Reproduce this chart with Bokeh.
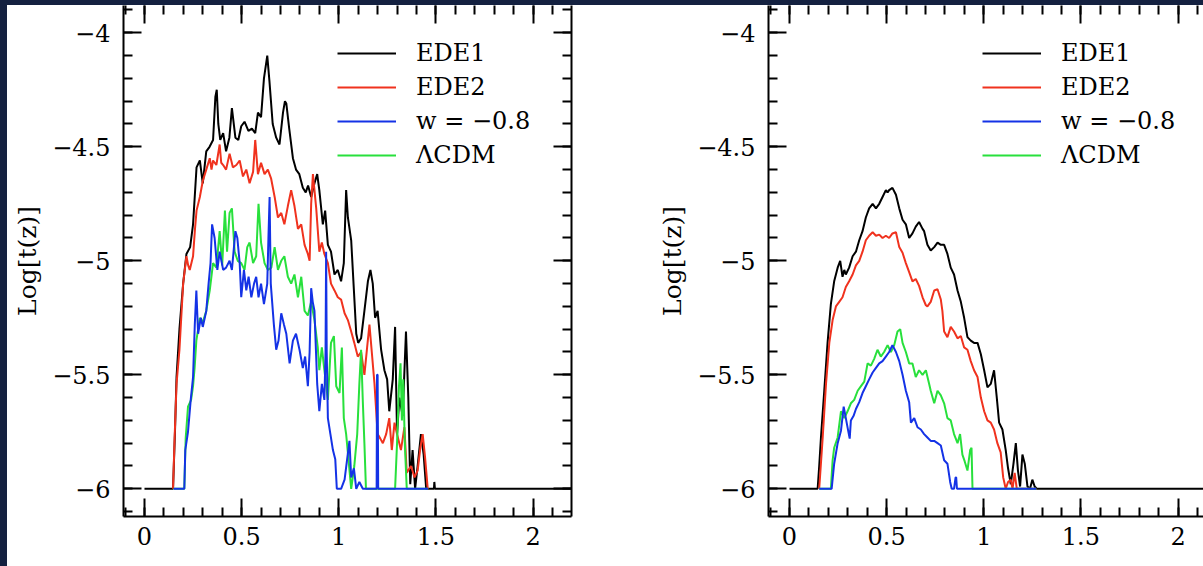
from bokeh.plotting import figure
from bokeh.layouts import row, column
from bokeh.models import (Range1d, LinearAxis, SingleIntervalTicker, CustomJSTickFormatter,
                          Legend, LegendItem, Label, Spacer)
from bokeh.embed import file_html
from bokeh.resources import INLINE

# ---------------- data ----------------
labels = ["EDE1", "EDE2", "w = \u22120.8", "\u039bCDM"]
colors = ["#000000", "#f0321e", "#1432e6", "#28e03c"]

# left panel
left_ede1_z = [0, 0.147, 0.157, 0.165, 0.18, 0.199, 0.216, 0.235, 0.25, 0.268, 0.285, 0.30, 0.318, 0.335,
               0.353, 0.365, 0.372, 0.38, 0.39, 0.405, 0.42, 0.437, 0.45, 0.468, 0.483, 0.498, 0.515, 0.535,
               0.553, 0.57, 0.584, 0.60, 0.615, 0.632, 0.643, 0.66, 0.678, 0.695, 0.713, 0.723, 0.73, 0.745,
               0.764, 0.78, 0.797, 0.815, 0.83, 0.842, 0.858, 0.875, 0.889, 0.90, 0.918, 0.93, 0.944, 0.96,
               0.978, 0.995, 1.012, 1.026, 1.038, 1.047, 1.064, 1.078, 1.09, 1.10, 1.115, 1.132, 1.15, 1.163,
               1.175, 1.187, 1.20, 1.218, 1.235, 1.249, 1.26, 1.278, 1.29, 1.30, 1.312, 1.329, 1.346, 1.358,
               1.368, 1.38, 1.393, 1.406, 1.423, 1.437, 1.45, 1.49, 1.492, 1.495, 2.2]
left_ede1_y = [-6, -6, -5.75, -5.51, -5.30, -5.10, -4.97, -4.94, -4.84, -4.59, -4.56, -4.66, -4.52, -4.50,
               -4.47, -4.28, -4.25, -4.40, -4.47, -4.44, -4.52, -4.46, -4.33, -4.46, -4.47, -4.41, -4.39, -4.43,
               -4.42, -4.44, -4.35, -4.37, -4.20, -4.10, -4.21, -4.40, -4.46, -4.49, -4.35, -4.30, -4.31, -4.42,
               -4.55, -4.60, -4.62, -4.68, -4.70, -4.67, -4.72, -4.66, -4.62, -4.69, -4.84, -4.78, -4.93, -4.96,
               -5.06, -5.04, -5.09, -5.01, -4.69, -4.81, -4.91, -5.13, -5.32, -5.36, -5.34, -5.22, -5.09, -5.04,
               -5.10, -5.25, -5.22, -5.39, -5.48, -5.52, -5.66, -5.52, -5.29, -5.76, -5.60, -5.68, -5.31, -5.60,
               -5.98, -5.83, -6.0, -5.90, -5.76, -5.85, -6.0, -6.0, -5.97, -6.0, -6.0]

left_ede2_z = [0.147, 0.155, 0.165, 0.18, 0.199, 0.216, 0.225, 0.233, 0.25, 0.26, 0.268, 0.285, 0.30, 0.318,
               0.336, 0.345, 0.353, 0.37, 0.387, 0.395, 0.405, 0.42, 0.438, 0.455, 0.473, 0.49, 0.507, 0.524,
               0.541, 0.559, 0.57, 0.584, 0.60, 0.618, 0.635, 0.652, 0.67, 0.687, 0.704, 0.72, 0.738, 0.755,
               0.772, 0.79, 0.807, 0.824, 0.841, 0.85, 0.858, 0.867, 0.884, 0.90, 0.913, 0.926, 0.944, 0.96,
               0.978, 0.995, 1.012, 1.03, 1.047, 1.064, 1.08, 1.098, 1.115, 1.132, 1.146, 1.158, 1.17, 1.184,
               1.20, 1.214, 1.227, 1.244, 1.26, 1.273, 1.287, 1.30, 1.32, 1.338, 1.35, 1.372, 1.39, 1.406,
               1.42, 1.432, 1.444, 1.458, 1.46]
left_ede2_y = [-6, -5.78, -5.54, -5.39, -5.10, -4.98, -5.02, -5.04, -4.98, -4.86, -4.78, -4.72, -4.65, -4.60,
               -4.55, -4.60, -4.56, -4.58, -4.49, -4.57, -4.58, -4.60, -4.53, -4.59, -4.58, -4.56, -4.63, -4.60,
               -4.66, -4.61, -4.47, -4.62, -4.57, -4.62, -4.60, -4.64, -4.72, -4.81, -4.79, -4.84, -4.76, -4.69,
               -4.76, -4.86, -4.84, -4.93, -4.97, -5.00, -4.75, -4.62, -4.77, -4.96, -4.92, -4.97, -5.01, -5.10,
               -5.13, -5.16, -5.17, -5.23, -5.26, -5.31, -5.36, -5.42, -5.40, -5.50, -5.38, -5.28, -5.40, -5.54,
               -5.76, -5.78, -5.80, -5.76, -5.69, -5.83, -5.71, -5.76, -5.83, -5.73, -5.93, -5.90, -5.95, -5.92,
               -5.82, -5.76, -5.86, -6.0, -6.0]

left_lcdm_z = [0.15, 0.205, 0.212, 0.224, 0.24, 0.25, 0.258, 0.267, 0.285, 0.30, 0.318, 0.336, 0.353, 0.37,
               0.387, 0.40, 0.414, 0.425, 0.438, 0.45, 0.464, 0.48, 0.498, 0.515, 0.529, 0.541, 0.559, 0.575,
               0.587, 0.60, 0.618, 0.635, 0.653, 0.67, 0.687, 0.704, 0.72, 0.738, 0.755, 0.772, 0.79, 0.807,
               0.824, 0.841, 0.858, 0.875, 0.892, 0.90, 0.913, 0.926, 0.944, 0.96, 0.975, 0.987, 1.004, 1.016,
               1.026, 1.038, 1.05, 1.064, 1.08, 1.095, 1.106, 1.115, 1.124, 1.132, 1.14, 1.29, 1.30, 1.31,
               1.318, 1.325, 1.332, 1.34, 1.35, 1.46]
left_lcdm_y = [-6, -6, -5.78, -5.64, -5.61, -5.55, -5.47, -5.35, -5.25, -5.27, -5.22, -5.13, -5.01, -5.03,
               -4.87, -5.02, -4.78, -4.96, -4.79, -4.77, -4.96, -5.00, -5.01, -5.04, -4.94, -4.92, -5.01, -4.98,
               -4.75, -4.92, -5.01, -5.04, -5.03, -4.94, -5.04, -5.00, -4.98, -5.07, -5.10, -5.06, -5.16, -5.07,
               -5.22, -5.24, -5.18, -5.26, -5.38, -5.48, -5.38, -5.48, -5.61, -5.36, -5.33, -5.55, -5.58, -5.38,
               -5.69, -5.76, -5.87, -6.0, -5.90, -5.76, -5.54, -5.39, -5.62, -5.80, -6.0, -6.0, -5.80, -5.55,
               -5.45, -5.70, -5.52, -5.80, -6.0, -6.0]

left_w08_z = [0.15, 0.205, 0.21, 0.224, 0.238, 0.25, 0.259, 0.267, 0.276, 0.29, 0.30, 0.318, 0.33, 0.34,
              0.348, 0.361, 0.375, 0.387, 0.405, 0.42, 0.438, 0.45, 0.468, 0.478, 0.49, 0.498, 0.512, 0.524,
              0.536, 0.55, 0.564, 0.575, 0.587, 0.60, 0.615, 0.632, 0.638, 0.644, 0.65, 0.666, 0.678, 0.69,
              0.704, 0.718, 0.73, 0.747, 0.764, 0.78, 0.798, 0.815, 0.827, 0.841, 0.85, 0.858, 0.866, 0.875,
              0.889, 0.90, 0.913, 0.926, 0.932, 0.935, 0.938, 0.944, 0.957, 0.97, 0.982, 0.99, 1.012, 1.03,
              1.055, 1.064, 1.078, 1.09, 1.106, 1.124, 1.195, 1.197, 1.20, 1.203, 1.46]
left_w08_y = [-6, -6, -5.83, -5.75, -5.61, -5.51, -5.28, -5.13, -5.32, -5.25, -5.29, -5.22, -5.10, -5.01,
              -4.84, -4.90, -5.04, -4.96, -5.04, -5.03, -5.00, -5.04, -4.87, -4.90, -5.01, -5.16, -5.04, -5.13,
              -5.07, -5.16, -5.10, -5.07, -5.16, -5.10, -5.19, -5.10, -4.90, -4.72, -5.10, -5.28, -5.39, -5.35,
              -5.23, -5.28, -5.32, -5.45, -5.35, -5.32, -5.39, -5.47, -5.42, -5.55, -5.40, -5.12, -5.18, -5.22,
              -5.54, -5.66, -5.54, -5.61, -5.40, -4.96, -5.40, -5.69, -5.76, -5.83, -5.87, -6.0, -6.0, -5.96,
              -5.79, -5.95, -5.91, -6.0, -5.97, -6.0, -6.0, -5.50, -5.50, -6.0, -6.0]

# right panel
right_ede1_z = [0, 0.145, 0.153, 0.162, 0.179, 0.196, 0.213, 0.23, 0.248, 0.261, 0.273, 0.282, 0.29, 0.307,
                0.325, 0.342, 0.359, 0.376, 0.393, 0.41, 0.428, 0.445, 0.462, 0.479, 0.496, 0.505, 0.513, 0.53,
                0.548, 0.565, 0.582, 0.599, 0.616, 0.633, 0.65, 0.667, 0.685, 0.693, 0.71, 0.727, 0.745, 0.762,
                0.779, 0.796, 0.813, 0.83, 0.847, 0.865, 0.882, 0.899, 0.916, 0.933, 0.95, 0.968, 0.985, 1.002,
                1.019, 1.036, 1.053, 1.067, 1.079, 1.096, 1.113, 1.125, 1.139, 1.153, 1.165, 1.176, 1.187, 1.199,
                1.211, 1.225, 1.238, 1.25, 1.262, 1.273, 2.2]
right_ede1_y = [-6, -6, -5.90, -5.775, -5.57, -5.36, -5.19, -5.09, -5.03, -5.00, -5.07, -5.04, -5.06, -5.03,
                -4.98, -4.96, -4.91, -4.87, -4.81, -4.77, -4.75, -4.77, -4.75, -4.72, -4.69, -4.70, -4.69, -4.68,
                -4.71, -4.77, -4.82, -4.84, -4.90, -4.88, -4.85, -4.83, -4.86, -4.87, -4.93, -4.955, -4.94, -4.92,
                -4.93, -4.93, -4.97, -5.03, -5.06, -5.13, -5.18, -5.25, -5.335, -5.35, -5.36, -5.36, -5.41, -5.48,
                -5.555, -5.54, -5.48, -5.60, -5.71, -5.74, -5.83, -5.91, -5.98, -5.89, -5.80, -5.92, -5.99, -5.85,
                -5.89, -5.99, -6.0, -5.96, -5.99, -6.0, -6.0]

right_ede2_z = [0.153, 0.171, 0.188, 0.205, 0.222, 0.239, 0.256, 0.273, 0.29, 0.307, 0.325, 0.342, 0.359,
                0.376, 0.393, 0.41, 0.428, 0.445, 0.462, 0.479, 0.496, 0.513, 0.53, 0.548, 0.565, 0.582, 0.599,
                0.616, 0.633, 0.65, 0.667, 0.685, 0.702, 0.71, 0.727, 0.745, 0.762, 0.779, 0.787, 0.796, 0.813,
                0.83, 0.847, 0.865, 0.882, 0.899, 0.916, 0.933, 0.95, 0.968, 0.985, 1.002, 1.019, 1.036, 1.053,
                1.07, 1.087, 1.10, 1.113, 1.125, 1.139, 1.148, 1.159, 1.17, 1.27]
right_ede2_y = [-6, -5.775, -5.54, -5.36, -5.26, -5.20, -5.18, -5.16, -5.115, -5.09, -5.06, -5.02, -5.00,
                -4.96, -4.91, -4.89, -4.875, -4.89, -4.885, -4.90, -4.89, -4.90, -4.88, -4.875, -4.94, -4.965,
                -5.01, -5.05, -5.09, -5.08, -5.11, -5.16, -5.195, -5.20, -5.18, -5.13, -5.125, -5.17, -5.22,
                -5.31, -5.335, -5.29, -5.31, -5.34, -5.33, -5.38, -5.39, -5.44, -5.48, -5.51, -5.60, -5.66, -5.70,
                -5.71, -5.74, -5.80, -5.84, -5.95, -6.0, -5.97, -5.96, -6.0, -5.93, -6.0, -6.0]

right_lcdm_z = [0.153, 0.213, 0.222, 0.23, 0.248, 0.265, 0.282, 0.299, 0.316, 0.333, 0.351, 0.368, 0.385,
                0.402, 0.419, 0.436, 0.453, 0.47, 0.487, 0.505, 0.522, 0.539, 0.556, 0.57, 0.582, 0.599, 0.616,
                0.633, 0.65, 0.667, 0.685, 0.702, 0.719, 0.727, 0.745, 0.762, 0.779, 0.796, 0.813, 0.83, 0.847,
                0.865, 0.878, 0.89, 0.902, 0.916, 0.93, 0.937, 0.942, 1.27]
right_lcdm_y = [-6, -6, -5.875, -5.82, -5.775, -5.66, -5.69, -5.66, -5.625, -5.61, -5.57, -5.55, -5.53,
                -5.45, -5.46, -5.43, -5.39, -5.42, -5.40, -5.37, -5.40, -5.37, -5.31, -5.30, -5.36, -5.40, -5.45,
                -5.45, -5.51, -5.48, -5.50, -5.48, -5.54, -5.57, -5.625, -5.57, -5.59, -5.625, -5.69, -5.70,
                -5.76, -5.80, -5.76, -5.85, -5.88, -5.92, -5.83, -5.82, -6.0, -6.0]

right_w08_z = [0.153, 0.217, 0.23, 0.248, 0.265, 0.279, 0.29, 0.302, 0.31, 0.316, 0.33, 0.342, 0.359, 0.376,
               0.393, 0.41, 0.428, 0.445, 0.462, 0.479, 0.496, 0.513, 0.53, 0.548, 0.565, 0.582, 0.599, 0.616,
               0.625, 0.642, 0.659, 0.676, 0.693, 0.71, 0.727, 0.745, 0.762, 0.779, 0.796, 0.813, 0.827, 0.835,
               0.847, 0.855, 0.858, 0.862, 0.865, 1.27]
right_w08_y = [-6, -6, -5.89, -5.80, -5.745, -5.64, -5.69, -5.745, -5.78, -5.70, -5.68, -5.65, -5.62, -5.58,
               -5.55, -5.52, -5.49, -5.47, -5.45, -5.44, -5.42, -5.40, -5.37, -5.40, -5.44, -5.50, -5.57, -5.62,
               -5.71, -5.69, -5.73, -5.74, -5.76, -5.775, -5.79, -5.79, -5.80, -5.81, -5.875, -5.89, -5.97,
               -6.0, -6.0, -5.95, -5.95, -6.0, -6.0, -6.0]

left_series = [(left_ede1_z, left_ede1_y), (left_ede2_z, left_ede2_y),
               (left_w08_z, left_w08_y), (left_lcdm_z, left_lcdm_y)]
right_series = [(right_ede1_z, right_ede1_y), (right_ede2_z, right_ede2_y),
                (right_w08_z, right_w08_y), (right_lcdm_z, right_lcdm_y)]

x_ticks_interval = 0.5
y_ticks_interval = 0.5

FONT = "DejaVu Serif"
FS = "24px"
NAVY = "#142140"

fmt_code = """
const v = Math.round(tick * 10) / 10;
return v < 0 ? '\\u2212' + String(-v) : String(v);
"""


def style_axis(ax, interval, show_labels):
    ax.ticker = SingleIntervalTicker(interval=interval, num_minor_ticks=5)
    ax.major_tick_in = 18
    ax.major_tick_out = 0
    ax.minor_tick_in = 9
    ax.minor_tick_out = 0
    ax.major_tick_line_width = 2
    ax.minor_tick_line_width = 2
    ax.major_tick_line_color = "black"
    ax.minor_tick_line_color = "black"
    ax.axis_line_width = 2
    ax.axis_line_color = "black"
    ax.major_label_text_font = FONT
    ax.major_label_text_color = "black"
    if show_labels:
        ax.formatter = CustomJSTickFormatter(code=fmt_code)
        ax.major_label_text_font_size = FS
    else:
        ax.formatter = CustomJSTickFormatter(code="return '';")
        ax.major_label_text_font_size = "0px"
        ax.major_label_standoff = 0


H = 561          # figure height (page rows 5..566)
FRAME_H = 511    # frame rows 5..516


def make_panel(width, x_end, border_right, series, right_axis):
    p = figure(width=width, height=H,
               x_range=Range1d(-0.108, x_end), y_range=Range1d(-6.1215, -3.8803),
               output_backend="svg", toolbar_location=None,
               min_border_left=116, min_border_right=border_right,
               min_border_top=0, min_border_bottom=H - FRAME_H,
               outline_line_color=None,
               background_fill_color="white", border_fill_color="white")
    p.grid.visible = False

    xb = p.xaxis[0]
    style_axis(xb, x_ticks_interval, True)
    xb.major_label_standoff = 10

    yl = p.yaxis[0]
    style_axis(yl, y_ticks_interval, True)
    yl.major_label_standoff = 13
    yl.axis_label = "Log[t(z)]"
    yl.axis_label_text_font = FONT
    yl.axis_label_text_font_size = "25px"
    yl.axis_label_text_font_style = "normal"
    yl.axis_label_text_color = "black"
    yl.axis_label_standoff = 7

    top = LinearAxis()
    style_axis(top, x_ticks_interval, False)
    top.axis_line_color = None
    p.add_layout(top, "above")

    if right_axis:
        ra = LinearAxis()
        style_axis(ra, y_ticks_interval, False)
        p.add_layout(ra, "right")

    (bz, by), (rz, ry), (wz, wy), (gz, gy) = series
    # draw order: black, red, green, blue (blue on top)
    r_black = p.line(bz, by, line_color=colors[0], line_width=2)
    r_red = p.line(rz, ry, line_color=colors[1], line_width=2)
    r_green = p.line(gz, gy, line_color=colors[3], line_width=2)
    r_blue = p.line(wz, wy, line_color=colors[2], line_width=2)

    items = [LegendItem(label=labels[0], renderers=[r_black]),
             LegendItem(label=labels[1], renderers=[r_red]),
             LegendItem(label=labels[2], renderers=[r_blue]),
             LegendItem(label=labels[3], renderers=[r_green])]
    legend = Legend(items=items,
                    location=(214, 347), orientation="vertical",
                    label_text_font=FONT, label_text_font_size=FS,
                    label_text_color="black", label_text_baseline="alphabetic",
                    glyph_width=59, glyph_height=28, label_height=28,
                    label_standoff=20, spacing=6, padding=0, margin=0,
                    border_line_color=None, background_fill_alpha=0)
    p.add_layout(legend)

    zl = Label(x=1, y=-58, x_units="data", y_units="screen", text="z",
               text_font=FONT, text_font_size=FS, text_color="black",
               text_align="center", text_baseline="alphabetic")
    p.add_layout(zl)
    return p


left = make_panel(645, 2.198, 81, left_series, True)
right = make_panel(551, 2.131, 0, right_series, False)

top_band = Spacer(width=1203, height=5, styles={"background-color": NAVY})
left_band = Spacer(width=7, height=H, styles={"background-color": NAVY})

p = column(top_band, row(left_band, left, right))

open("out.html", "w").write(file_html(p, INLINE))
